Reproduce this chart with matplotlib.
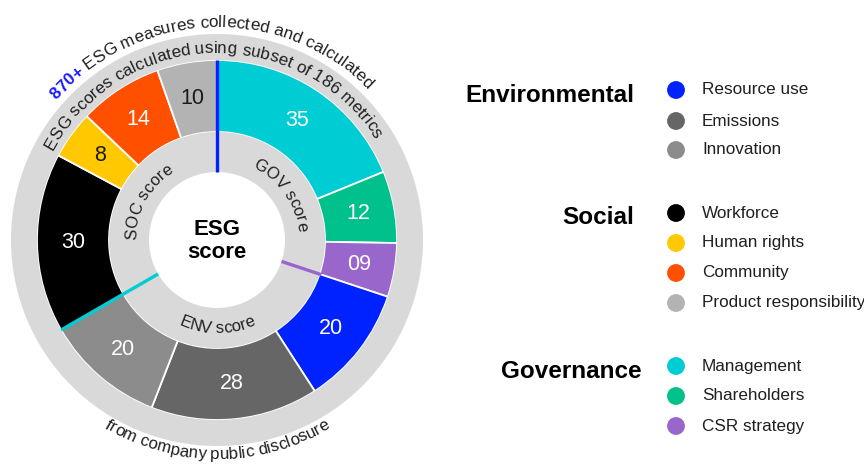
import numpy as np
import matplotlib
matplotlib.use("Agg")
import matplotlib.pyplot as plt

plt.rcParams["font.family"] = ["Liberation Sans", "DejaVu Sans"]

# segments clockwise from 12 o'clock: GOV, ENV, SOC
segments = ["Management", "Shareholders", "CSR strategy",
            "Resource use", "Emissions", "Innovation",
            "Workforce", "Human rights", "Community", "Product responsibility"]
values = [35, 12, 9, 20, 28, 20, 30, 8, 14, 10]
value_labels = ["35", "12", "09", "20", "28", "20", "30", "8", "14", "10"]
seg_colors = ["#00ccd3", "#00c08b", "#9966cc",
              "#0022ff", "#666666", "#8c8c8c",
              "#000000", "#ffc800", "#ff5000", "#b3b3b3"]
label_colors = ["white", "white", "white", "white", "white", "white",
                "white", "#1a1a1a", "white", "#1a1a1a"]

# pillars in legend order
pillars = ["Environmental", "Social", "Governance"]
pillar_items = [["Resource use", "Emissions", "Innovation"],
                ["Workforce", "Human rights", "Community", "Product responsibility"],
                ["Management", "Shareholders", "CSR strategy"]]

# first segment of each pillar on the ring, with its divider colour
divider_starts = ["Management", "Resource use", "Workforce"]
divider_colors = ["#0022ff", "#9966cc", "#00ccd3"]

W, H = 864, 470
fig = plt.figure(figsize=(W / 100, H / 100), dpi=100)
ax = fig.add_axes([0, 0, 1, 1])

cx, cy = 217, H - 240
gray = "#d9d9d9"
txt_col = "#1f1f1f"

ax.pie(values, radius=180, center=(cx, cy), startangle=90, counterclock=False,
       colors=seg_colors, wedgeprops=dict(width=72, edgecolor="white", linewidth=1.3))
ax.pie([1], radius=206, center=(cx, cy), colors=[gray], wedgeprops=dict(width=26))
ax.pie([1], radius=108, center=(cx, cy), colors=[gray], wedgeprops=dict(width=40))

ax.set_xlim(0, W)
ax.set_ylim(0, H)
ax.set_aspect("equal")
ax.axis("off")

total = sum(values)
edges = 90 - np.cumsum([0] + values) / total * 360

# value labels in the middle of each wedge
for i, lab in enumerate(value_labels):
    a = np.radians((edges[i] + edges[i + 1]) / 2)
    ax.text(cx + 144 * np.cos(a), cy + 144 * np.sin(a), lab, ha="center", va="center",
            fontsize=15.5, color=label_colors[i])

# coloured dividers between pillars
for name, col in zip(divider_starts, divider_colors):
    a = np.radians(edges[segments.index(name)])
    r1 = 110 if name == "Resource use" else 180
    ax.plot([cx + 68 * np.cos(a), cx + r1 * np.cos(a)],
            [cy + 68 * np.sin(a), cy + r1 * np.sin(a)],
            color=col, lw=2.4, solid_capstyle="butt", zorder=3)

ax.text(cx, cy - 1, "ESG\nscore", ha="center", va="center", fontsize=16,
        fontweight="bold", color="black", linespacing=1.15)

fig.canvas.draw()
renderer = fig.canvas.get_renderer()


def text_width(s, size, weight):
    t = ax.text(0, 0, "|" + s + "|", fontsize=size, fontweight=weight)
    w = t.get_window_extent(renderer).width
    t.remove()
    return w


def arc_text(parts, radius, mid, size, outward=True):
    pieces = []
    offset = 0.0
    for txt, weight, col in parts:
        w0 = text_width("", size, weight)
        prev = 0.0
        for i, ch in enumerate(txt):
            cur = text_width(txt[:i + 1], size, weight) - w0
            pieces.append((ch, offset + (prev + cur) / 2, weight, col))
            prev = cur
        offset += prev
    length = offset
    for ch, pos, weight, col in pieces:
        if ch == " ":
            continue
        if outward:
            phi = np.radians(mid) + (length / 2 - pos) / radius
            rot = np.degrees(phi) - 90
        else:
            phi = np.radians(mid) + (pos - length / 2) / radius
            rot = np.degrees(phi) + 90
        ax.text(cx + radius * np.cos(phi), cy + radius * np.sin(phi), ch,
                rotation=rot, rotation_mode="anchor", ha="center", va="baseline",
                fontsize=size, fontweight=weight, color=col)


arc_text([("870+", "bold", "#1a1aff"),
          (" ESG measures collected and calculated", "normal", txt_col)], 213, 92, 12.3)
arc_text([("ESG scores calculated using subset of 186 metrics", "normal", txt_col)],
         187, 92, 12.3)
arc_text([("from company public disclosure", "normal", txt_col)], 219, -90, 12.2,
         outward=False)
arc_text([("SOC score", "normal", txt_col)], 81, 151, 12)
arc_text([("GOV score", "normal", txt_col)], 81, 35, 12)
arc_text([("ENV score", "normal", txt_col)], 93, -90, 12, outward=False)

# legend
header_y = [95, 218, 371]
header_x = [634, 634, 642]
row_y = [[90, 121, 150], [213, 243, 273, 303], [366, 396, 426]]
for p, name in enumerate(pillars):
    ax.text(header_x[p], H - header_y[p], name, ha="right", va="center",
            fontsize=17.5, fontweight="bold", color="black")
    for item, py in zip(pillar_items[p], row_y[p]):
        ax.scatter(676, H - py, s=165, color=seg_colors[segments.index(item)],
                   edgecolors="none", zorder=3)
        ax.text(702, H - py, item, ha="left", va="center", fontsize=12.3, color=txt_col)

fig.savefig("out.png", dpi=100)
